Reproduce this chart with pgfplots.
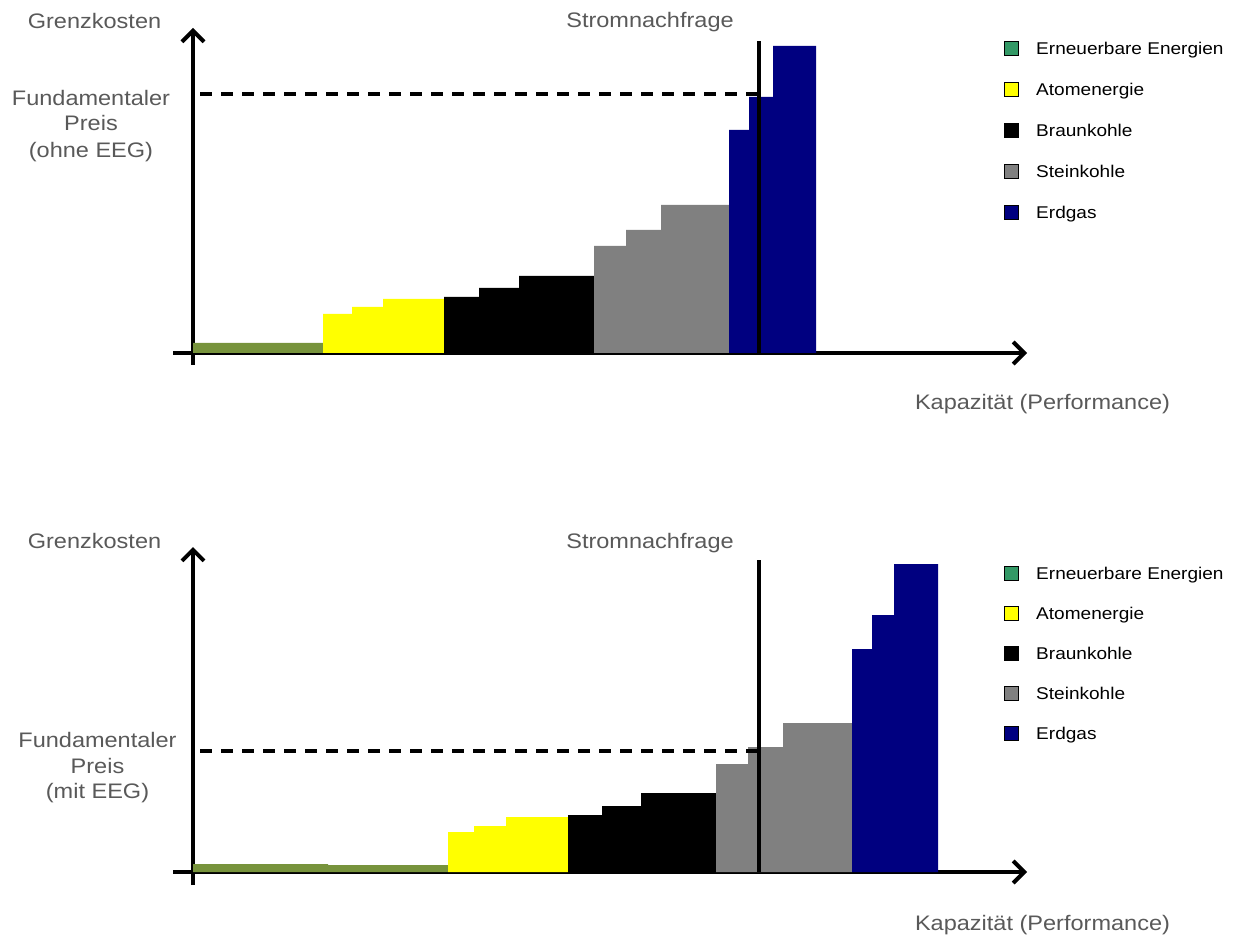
\documentclass[border=0pt]{standalone}
\usepackage{fontspec}
\setmainfont{Liberation Sans}[FakeStretch=1.12]
\usepackage{pgfplots}
\pgfplotsset{compat=1.18}
\usetikzlibrary{arrows.meta}

\definecolor{eegbar}{RGB}{119,147,60}
\definecolor{eegleg}{RGB}{51,153,102}
\definecolor{kohle}{RGB}{128,128,128}
\definecolor{gas}{RGB}{0,0,128}
\definecolor{gelb}{RGB}{255,255,0}
\definecolor{txtgray}{RGB}{89,89,89}

\pgfplotsset{
  merit/.style={
    x=1pt, y=1pt,
    axis lines=middle,
    xtick=\empty, ytick=\empty,
    clip=false,
    anchor=origin,
    every inner x axis line/.append style={line width=4pt,-{Straight Barb[length=11pt,width=22pt]}},
    every inner y axis line/.append style={line width=4pt,-{Straight Barb[length=11pt,width=22pt]}},
    legend image code/.code={\draw[##1,line width=1pt] (0pt,-7pt) rectangle (14pt,7pt);},
    legend cell align=left,
    legend style={draw=none, fill=none, inner sep=0pt, anchor=north west,
      font=\fontsize{17}{20}\selectfont, column sep=17pt,
      nodes={inner sep=0pt, text height=12pt, text depth=0pt}},
  },
}
\tikzset{lbl/.style={anchor=base, text=txtgray, font=\fontsize{21}{26}\selectfont}}

\begin{document}
\begin{tikzpicture}
\path[use as bounding box] (0,0) rectangle (1238pt,938pt);

% oben: ohne EEG
\begin{axis}[merit, at={(193pt,585pt)},
  xmin=-20, xmax=834, ymin=-12, ymax=325,
  legend style={at={(0.9731,0.9614)}, row sep=26pt}]
  \addplot[const plot, fill=eegbar, draw=none, forget plot] coordinates {(0,10) (130,10)} \closedcycle;
  \addplot[const plot, fill=gelb, draw=none, forget plot] coordinates {(130,39) (159,46) (190,54) (251,54)} \closedcycle;
  \addplot[const plot, fill=black, draw=none, forget plot] coordinates {(251,56) (286,65) (326,77) (401,77)} \closedcycle;
  \addplot[const plot, fill=kohle, draw=none, forget plot] coordinates {(401,107) (433,123) (468,148) (536,148)} \closedcycle;
  \addplot[const plot, fill=gas, draw=none, forget plot] coordinates {(536,223) (556,256) (580,307) (623,307)} \closedcycle;
  \addplot[line width=3.6pt, dash pattern=on 12pt off 9pt, forget plot] coordinates {(7,259) (564,259)};
  \addplot[line width=4.2pt, forget plot] coordinates {(566,0) (566,312)};
  \addlegendimage{fill=eegleg, draw=black}\addlegendentry{Erneuerbare Energien}
  \addlegendimage{fill=gelb, draw=black}\addlegendentry{Atomenergie}
  \addlegendimage{fill=black, draw=black}\addlegendentry{Braunkohle}
  \addlegendimage{fill=kohle, draw=black}\addlegendentry{Steinkohle}
  \addlegendimage{fill=gas, draw=black}\addlegendentry{Erdgas}
  \node[lbl] at (axis cs:-98.5,324) {Grenzkosten};
  \node[lbl] at (axis cs:457,325) {Stromnachfrage};
  \node[lbl] at (axis cs:-102,247) {Fundamentaler};
  \node[lbl] at (axis cs:-102,222) {Preis};
  \node[lbl] at (axis cs:-102,195) {(ohne EEG)};
  \node[lbl] at (axis cs:849.5,-57) {Kapazität (Performance)};
\end{axis}

% unten: mit EEG
\begin{axis}[merit, at={(193pt,66pt)},
  xmin=-20, xmax=834, ymin=-13, ymax=325,
  legend style={at={(0.9731,0.9438)}, row sep=25pt}]
  \addplot[const plot, fill=eegbar, draw=none, forget plot] coordinates {(0,8) (135,7) (255,7)} \closedcycle;
  \addplot[const plot, fill=gelb, draw=none, forget plot] coordinates {(255,40) (281,46) (313,55) (375,55)} \closedcycle;
  \addplot[const plot, fill=black, draw=none, forget plot] coordinates {(375,57) (409,66) (448,79) (523,79)} \closedcycle;
  \addplot[const plot, fill=kohle, draw=none, forget plot] coordinates {(523,108) (555,125) (590,149) (659,149)} \closedcycle;
  \addplot[const plot, fill=gas, draw=none, forget plot] coordinates {(659,223) (679,257) (701,308) (745,308)} \closedcycle;
  \addplot[line width=3.6pt, dash pattern=on 12pt off 9pt, forget plot] coordinates {(7,121) (564,121)};
  \addplot[line width=4.2pt, forget plot] coordinates {(566,0) (566,312)};
  \addlegendimage{fill=eegleg, draw=black}\addlegendentry{Erneuerbare Energien}
  \addlegendimage{fill=gelb, draw=black}\addlegendentry{Atomenergie}
  \addlegendimage{fill=black, draw=black}\addlegendentry{Braunkohle}
  \addlegendimage{fill=kohle, draw=black}\addlegendentry{Steinkohle}
  \addlegendimage{fill=gas, draw=black}\addlegendentry{Erdgas}
  \node[lbl] at (axis cs:-98.5,324) {Grenzkosten};
  \node[lbl] at (axis cs:457,324) {Stromnachfrage};
  \node[lbl] at (axis cs:-95.5,125) {Fundamentaler};
  \node[lbl] at (axis cs:-95.5,99) {Preis};
  \node[lbl] at (axis cs:-95.5,74) {(mit EEG)};
  \node[lbl] at (axis cs:849.5,-58) {Kapazität (Performance)};
\end{axis}
\end{tikzpicture}
\end{document}
